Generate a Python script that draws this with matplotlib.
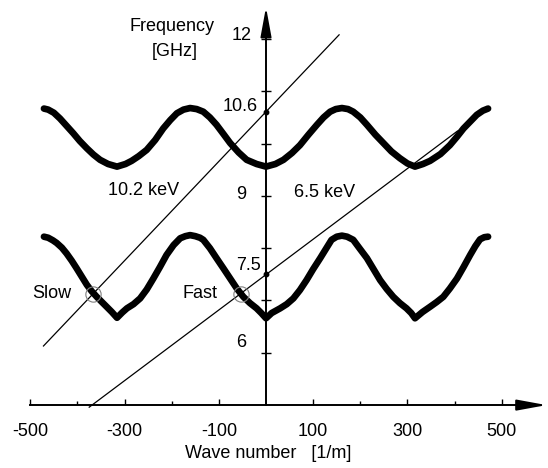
import matplotlib
matplotlib.use('Agg')
import matplotlib.pyplot as plt
from matplotlib.patches import ArrowStyle

plt.rcParams['font.family'] = ['Liberation Sans', 'DejaVu Sans']
plt.rcParams['font.size'] = 13

# upper pass band (wave number [1/m], frequency [GHz])
upper_k = [-471, -462, -450, -437, -423, -409, -395, -380, -366, -352, -335, -316,
           -298, -285, -270, -253, -235, -218, -203, -189, -175, -161, -147, -133,
           -119, -105, -90, -76, -58, -41, -20, 0, 20, 37, 55, 72, 90, 108, 122,
           136, 148, 161, 174, 185, 200, 214, 232, 249, 266, 284, 300, 316, 333,
           348, 370, 390, 405, 419, 433, 447, 460, 471]
upper_f = [10.67, 10.65, 10.59, 10.48, 10.34, 10.20, 10.05, 9.91, 9.79, 9.69, 9.61, 9.56,
           9.61, 9.67, 9.76, 9.88, 10.07, 10.29, 10.45, 10.58, 10.65, 10.68, 10.66, 10.61,
           10.50, 10.36, 10.18, 10.01, 9.83, 9.69, 9.61, 9.56, 9.61, 9.69, 9.82, 9.97, 10.17, 10.36, 10.50,
           10.61, 10.66, 10.68, 10.66, 10.61, 10.50, 10.36, 10.17, 10.01, 9.85, 9.72, 9.62, 9.56, 9.61,
           9.67, 9.80, 9.97, 10.13, 10.29, 10.42, 10.55, 10.63, 10.67]

# lower pass band
lower_k = [-471, -462, -452, -444, -433, -423, -412, -402, -391, -380, -370, -359,
           -348, -338, -327, -316, -305, -295, -281, -267, -253, -239, -225, -211,
           -196, -182, -171, -161, -150, -140, -133, -119, -105, -90, -76, -62, -48,
           -34, -20, -10, 0, 12, 30, 44, 58, 72, 86, 100, 115, 128, 139, 150, 161,
           172, 185, 199, 214, 228, 242, 256, 270, 284, 298, 308, 316, 332, 348,
           362, 376, 390, 405, 419, 433, 444, 454, 463, 471]
lower_f = [8.22, 8.20, 8.15, 8.10, 8.01, 7.90, 7.76, 7.62, 7.46, 7.30, 7.18, 7.07,
           6.97, 6.88, 6.78, 6.67, 6.77, 6.85, 6.93, 7.04, 7.21, 7.42, 7.64, 7.87,
           8.06, 8.19, 8.23, 8.25, 8.23, 8.20, 8.16, 8.00, 7.81, 7.61, 7.42, 7.23, 7.07,
           6.95, 6.85, 6.76, 6.66, 6.76, 6.85, 6.93, 7.04, 7.20, 7.39, 7.60, 7.81, 8.00, 8.16, 8.22, 8.24,
           8.22, 8.16, 7.99, 7.81, 7.60, 7.39, 7.22, 7.07, 6.95, 6.85, 6.76, 6.66, 6.78, 6.88,
           6.97, 7.07, 7.23, 7.42, 7.64, 7.87, 8.04, 8.17, 8.21, 8.22]

# beam lines: 10.2 keV and 6.5 keV electrons
beam_hi_k = [-472, 155]
beam_hi_f = [6.13, 12.08]
beam_lo_k = [-375, 406]
beam_lo_f = [4.96, 10.24]

# axis intercepts of the beam lines
intercept_f = [10.6, 7.5]

# synchronism points on the lower band
sync_k = [-366, -54]
sync_f = [7.13, 7.13]
sync_names = ['Slow', 'Fast']

x_major = [-500, -300, -100, 100, 300, 500]
x_minor = [-400, -200, 200, 400]
y_ticks = [6, 7, 8, 9, 10, 11, 12]
y_labels = ['12', '10.6', '9', '7.5', '6']

fig = plt.figure(figsize=(5.48, 4.68), dpi=100)
ax = fig.add_axes([0, 0, 1, 1])
ax.set_xlim(-564.2, 598.1)
ax.set_ylim(3.797, 12.746)

# axes drawn through the origin like in the paper figure
for side in ['top', 'right']:
    ax.spines[side].set_visible(False)
ax.spines['left'].set_position(('data', 0))
ax.spines['bottom'].set_position(('data', 5))
ax.spines['left'].set_bounds(5, 12.3)
ax.spines['bottom'].set_bounds(-500, 560)
ax.spines['left'].set_linewidth(1.4)
ax.spines['bottom'].set_linewidth(1.4)

ax.set_xticks(x_major)
ax.set_xticklabels([str(v) for v in x_major])
ax.set_xticks(x_minor, minor=True)
ax.tick_params(axis='x', which='major', direction='in', length=4.3, width=1, pad=13)
ax.tick_params(axis='x', which='minor', direction='in', length=3.2, width=1)
ax.set_yticks(y_ticks)
ax.set_yticklabels([])
ax.tick_params(axis='y', direction='inout', length=7.5, width=1)

# arrow heads on both axes
head = ArrowStyle('-|>', head_length=1.8, head_width=0.33)
ax.annotate('', xy=(595, 5), xytext=(540, 5),
            arrowprops=dict(arrowstyle=head, color='black', lw=1.4,
                            shrinkA=0, shrinkB=0, mutation_scale=10))
ax.annotate('', xy=(0, 12.61), xytext=(0, 12.0),
            arrowprops=dict(arrowstyle=head, color='black', lw=1.4,
                            shrinkA=0, shrinkB=0, mutation_scale=10))

# dispersion curves
for k, f in [(upper_k, upper_f), (lower_k, lower_f)]:
    ax.plot(k, f, color='black', lw=4.8, solid_capstyle='round',
            solid_joinstyle='round')

# beam lines
ax.plot(beam_hi_k, beam_hi_f, color='black', lw=0.9)
ax.plot(beam_lo_k, beam_lo_f, color='black', lw=0.9)
ax.plot([0] * len(intercept_f), intercept_f, 'o', color='black', ms=3.2)

# synchronism circles
ax.plot(sync_k, sync_f, 'o', mfc='none', mec='#808080', mew=0.8, ms=11)

# y labels sit next to the axis (two of them mark the intercepts)
y_label_pos = [(-30, 12.06), (-17, 10.71), (-42, 9.02), (-11, 7.66), (-42, 6.2)]
for (x, y), s in zip(y_label_pos, y_labels):
    ax.text(x, y, s, ha='right', va='center')

ax.text(-199, 12.24, 'Frequency', ha='center', va='center')
ax.text(-193, 11.76, '[GHz]', ha='center', va='center')
ax.text(-260, 9.11, '10.2 keV', ha='center', va='center')
ax.text(125, 9.06, '6.5 keV', ha='center', va='center')
ax.text(-454, sync_f[0], sync_names[0], ha='center', va='center')
ax.text(-140, sync_f[1], sync_names[1], ha='center', va='center')
ax.text(5, 4.065, 'Wave number   [1/m]', ha='center', va='center')

fig.savefig('out.png', dpi=100)
